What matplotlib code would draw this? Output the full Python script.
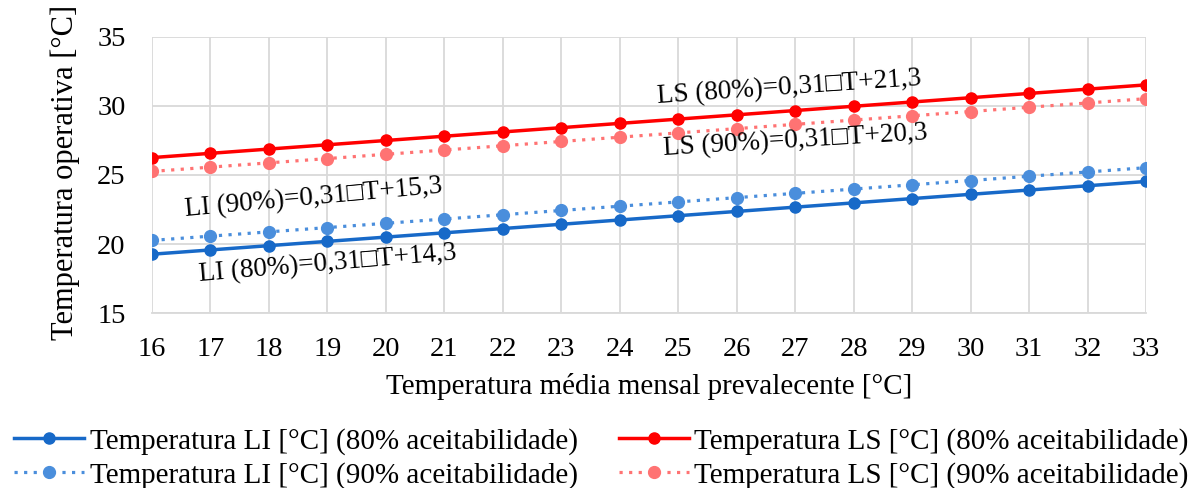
import matplotlib.pyplot as plt

plt.rcParams['font.family'] = ['Liberation Serif', 'DejaVu Sans']

# Mean monthly prevailing temperature
temp_media = [16, 17, 18, 19, 20, 21, 22, 23, 24, 25, 26, 27, 28, 29, 30, 31, 32, 33]

# Limits of operative temperature
li_80 = [19.26, 19.57, 19.88, 20.19, 20.50, 20.81, 21.12, 21.43, 21.74,
         22.05, 22.36, 22.67, 22.98, 23.29, 23.60, 23.91, 24.22, 24.53]
li_90 = [20.26, 20.57, 20.88, 21.19, 21.50, 21.81, 22.12, 22.43, 22.74,
         23.05, 23.36, 23.67, 23.98, 24.29, 24.60, 24.91, 25.22, 25.53]
ls_80 = [26.26, 26.57, 26.88, 27.19, 27.50, 27.81, 28.12, 28.43, 28.74,
         29.05, 29.36, 29.67, 29.98, 30.29, 30.60, 30.91, 31.22, 31.53]
ls_90 = [25.26, 25.57, 25.88, 26.19, 26.50, 26.81, 27.12, 27.43, 27.74,
         28.05, 28.36, 28.67, 28.98, 29.29, 29.60, 29.91, 30.22, 30.53]

fig = plt.figure(figsize=(11.95, 4.88), dpi=100)
ax = fig.add_axes([0.1272, 0.3586, 0.8318, 0.5656])

fs = 21

# Plot the four lines
ax.plot(temp_media, li_80, color='#1769C8', lw=2.5, marker='o', ms=8,
        label='Temperatura LI [°C] (80% aceitabilidade)', zorder=3)
ax.plot(temp_media, li_90, color='#4A8EDC', lw=2.3, ls=(0, (1, 2)), marker='o', ms=8.5,
        label='Temperatura LI [°C] (90% aceitabilidade)', zorder=3)
ax.plot(temp_media, ls_80, color='#FF0000', lw=2.5, marker='o', ms=8,
        label='Temperatura LS [°C] (80% aceitabilidade)', zorder=3)
ax.plot(temp_media, ls_90, color='#FF7373', lw=2.3, ls=(0, (1, 2)), marker='o', ms=8.5,
        label='Temperatura LS [°C] (90% aceitabilidade)', zorder=3)

# Equations
eq_fs = 19.5
ax.text(26.89, 31.30, 'LS (80%)=0,31\u25a1T+21,3', fontsize=eq_fs, ha='center', va='center', rotation=3.9)
ax.text(27.0, 27.46, 'LS (90%)=0,31\u25a1T+20,3', fontsize=eq_fs, ha='center', va='center', rotation=3.4)
ax.text(18.77, 23.33, 'LI (90%)=0,31\u25a1T+15,3', fontsize=eq_fs, ha='center', va='center', rotation=5.2)
ax.text(19.01, 18.55, 'LI (80%)=0,31\u25a1T+14,3', fontsize=eq_fs, ha='center', va='center', rotation=4.8)

# Axes
ax.set_xlim(16, 33)
ax.set_ylim(15, 35)
ax.set_xticks(temp_media)
ax.set_yticks([15, 20, 25, 30, 35])
ax.tick_params(labelsize=20.5, length=0)
ax.tick_params(axis='x', pad=17)
ax.tick_params(axis='y', pad=19)
ax.grid(True, color='#D9D9D9', lw=1.3)
ax.set_axisbelow(True)
for s in ['top', 'right', 'left']:
    ax.spines[s].set_visible(False)
ax.spines['bottom'].set_color('#D9D9D9')
ax.spines['bottom'].set_linewidth(1.3)

ax.set_xlabel('Temperatura média mensal prevalecente [°C]', fontsize=fs, labelpad=8)
ax.set_ylabel('Temperatura operativa [°C]', fontsize=22)
ax.yaxis.set_label_coords(-0.0724, 0.51)

# Legend
ax.legend(loc='upper center', bbox_to_anchor=(0.452, -0.32), ncol=2, frameon=False,
          fontsize=fs, handlelength=2.4, handletextpad=0.2, columnspacing=1.4,
          labelspacing=0.26)

fig.savefig('out.png', dpi=100)
